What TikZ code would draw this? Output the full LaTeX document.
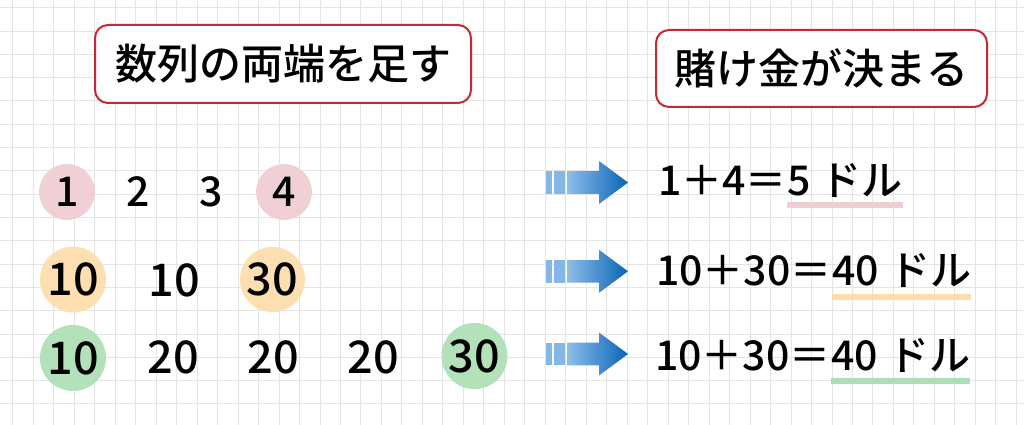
\documentclass[tikz,border=0pt]{standalone}
\usepackage{fontspec}
\setmainfont{Noto Sans CJK JP}[UprightFont=* Medium]
\usetikzlibrary{positioning}
\definecolor{boxred}{RGB}{200,40,52}
\definecolor{gridgray}{RGB}{228,228,228}
\definecolor{pinkc}{RGB}{240,205,210}
\definecolor{orangec}{RGB}{253,221,172}
\definecolor{greenc}{RGB}{172,223,181}
\definecolor{arrowlight}{RGB}{142,190,234}
\definecolor{arrowmid}{RGB}{60,140,212}
\definecolor{arrowdark}{RGB}{8,100,182}
\definecolor{barblue}{RGB}{132,183,230}
\tikzset{
    x=1pt, y=-1pt, % one unit is one pixel of the picture, y runs downwards
    gridline/.style={draw=gridgray, line width=0.8pt},
    title/.style={draw=boxred, line width=2pt, rounded corners=13pt, fill=white,
        inner sep=0pt, font=\fontsize{42}{50}\selectfont},
    num/.style={inner sep=0pt, font=\fontsize{41}{49}\selectfont},
    bignum/.style={inner sep=0pt, font=\fontsize{45}{54}\selectfont},
    spot/.style={circle, fill=#1, fill opacity=0.92, text opacity=1}, % the coloured discs
    eqn/.style={inner sep=0pt, anchor=base west, font=\fontsize{41}{49}\selectfont},
    uline/.style={draw=#1, line width=6pt},
}
\begin{document}
\begin{tikzpicture}
  \useasboundingbox (0,0) rectangle (1024,425);
  \fill[white] (0,0) rectangle (1024,425);
  % background grid
  \foreach \i in {0,...,49}
    \draw[gridline] (12.7+20.48*\i,0) -- (12.7+20.48*\i,425);
  \foreach \j in {0,...,17}
    \draw[gridline] (0,7.7+23.3*\j) -- (1024,7.7+23.3*\j);

  % headings
  \node[title, minimum width=376pt, minimum height=78pt] (sum)  at (283,64)    {数列の両端を足す};
  \node[title, minimum width=331pt, minimum height=77pt] (stake) at (821.5,68.5) {賭け金が決まる};

  % first row
  \node[spot=pinkc, minimum size=56pt, num] (a1) at (67,192)  {1};
  \node[num] (a2) at (138,192) {2};
  \node[num] (a3) at (211,192) {3};
  \node[spot=pinkc, minimum size=56pt, num] (a4) at (284,192) {4};

  % second row
  \node[spot=orangec, minimum size=66pt, bignum] (b1) at (73,279.5)  {10};
  \node[bignum] (b2) at (174,280) {10};
  \node[spot=orangec, minimum size=65pt, bignum] (b3) at (272.5,279.5) {30};

  % third row
  \node[spot=greenc, minimum size=66pt, bignum] (c1) at (73,358) {10};
  \node[bignum] (c2) at (173,357) {20};
  \node[bignum] (c3) at (273,357) {20};
  \node[bignum] (c4) at (373,357) {20};
  \node[spot=greenc, minimum size=66pt, bignum] (c5) at (474.5,356) {30};

  % block arrows
  \foreach \n/\y in {1/182.5, 2/271.3, 3/354}{
    \coordinate (arr\n) at (546,\y);
    \begin{scope}[shift={(arr\n)}]
      \fill[barblue] (0,-11.3) rectangle (6,11.3);
      \fill[barblue] (8,-11.3) rectangle (19,11.3);
      \shade[left color=arrowlight, middle color=arrowmid, right color=arrowdark]
        (21,-11.3) -- (53,-11.3) -- (53,-21.5) -- (82,0) -- (53,21.5) -- (53,11.3) -- (21,11.3) -- cycle;
    \end{scope}
  }

  % sums
  \node[eqn] (s1) at (658,195) {1＋4＝};
  \node[eqn] (r1) at (s1.base east) {5\hspace{0.25em}ドル};
  \node[eqn] (s2) at (656,285) {10＋30＝};
  \node[eqn] (r2) at (s2.base east) {40\hspace{0.25em}ドル};
  \node[eqn] (s3) at (655,370) {10＋30＝};
  \node[eqn] (r3) at (s3.base east) {40\hspace{0.25em}ドル};
  \draw[uline=pinkc]   ([yshift=-10pt]r1.base west) -- ([yshift=-10pt]r1.base east);
  \draw[uline=orangec] ([yshift=-11.5pt]r2.base west) -- ([yshift=-11.5pt]r2.base east);
  \draw[uline=greenc]  ([yshift=-11pt]r3.base west) -- ([yshift=-11pt]r3.base east);
\end{tikzpicture}
\end{document}
